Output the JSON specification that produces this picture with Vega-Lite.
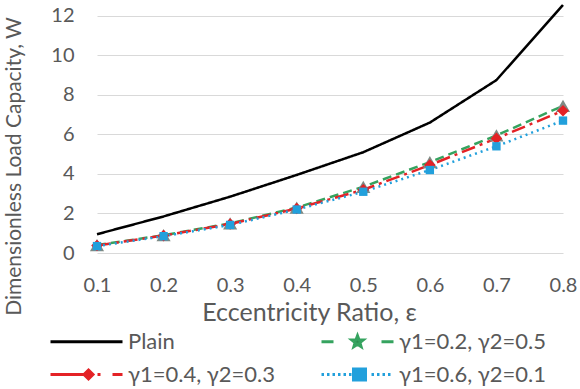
{
  "$schema": "https://vega.github.io/schema/vega-lite/v6.json",
  "width": 466,
  "height": 248,
  "autosize": {"type": "none"},
  "padding": {"left": 97, "top": 5, "right": 17, "bottom": 136},
  "background": "white",
  "config": {
    "font": "Lato",
    "view": {"stroke": null},
    "axis": {"labelColor": "#595959", "titleColor": "#595959", "labelFont": "Lato", "titleFont": "Lato", "titleFontWeight": "normal"}
  },
  "data": {
    "values": [
      {"eps": 0.1, "series": "Plain", "W": 0.95},
      {"eps": 0.2, "series": "Plain", "W": 1.85},
      {"eps": 0.3, "series": "Plain", "W": 2.85},
      {"eps": 0.4, "series": "Plain", "W": 3.95},
      {"eps": 0.5, "series": "Plain", "W": 5.1},
      {"eps": 0.6, "series": "Plain", "W": 6.6},
      {"eps": 0.7, "series": "Plain", "W": 8.75},
      {"eps": 0.8, "series": "Plain", "W": 12.55},
      {"eps": 0.1, "series": "γ1=0.2, γ2=0.5", "W": 0.4},
      {"eps": 0.2, "series": "γ1=0.2, γ2=0.5", "W": 0.9},
      {"eps": 0.3, "series": "γ1=0.2, γ2=0.5", "W": 1.5},
      {"eps": 0.4, "series": "γ1=0.2, γ2=0.5", "W": 2.3},
      {"eps": 0.5, "series": "γ1=0.2, γ2=0.5", "W": 3.35},
      {"eps": 0.6, "series": "γ1=0.2, γ2=0.5", "W": 4.6},
      {"eps": 0.7, "series": "γ1=0.2, γ2=0.5", "W": 5.95},
      {"eps": 0.8, "series": "γ1=0.2, γ2=0.5", "W": 7.45},
      {"eps": 0.1, "series": "γ1=0.4, γ2=0.3", "W": 0.38},
      {"eps": 0.2, "series": "γ1=0.4, γ2=0.3", "W": 0.88},
      {"eps": 0.3, "series": "γ1=0.4, γ2=0.3", "W": 1.47},
      {"eps": 0.4, "series": "γ1=0.4, γ2=0.3", "W": 2.25},
      {"eps": 0.5, "series": "γ1=0.4, γ2=0.3", "W": 3.2},
      {"eps": 0.6, "series": "γ1=0.4, γ2=0.3", "W": 4.45},
      {"eps": 0.7, "series": "γ1=0.4, γ2=0.3", "W": 5.8},
      {"eps": 0.8, "series": "γ1=0.4, γ2=0.3", "W": 7.2},
      {"eps": 0.1, "series": "γ1=0.6, γ2=0.1", "W": 0.35},
      {"eps": 0.2, "series": "γ1=0.6, γ2=0.1", "W": 0.85},
      {"eps": 0.3, "series": "γ1=0.6, γ2=0.1", "W": 1.42},
      {"eps": 0.4, "series": "γ1=0.6, γ2=0.1", "W": 2.2},
      {"eps": 0.5, "series": "γ1=0.6, γ2=0.1", "W": 3.1},
      {"eps": 0.6, "series": "γ1=0.6, γ2=0.1", "W": 4.2},
      {"eps": 0.7, "series": "γ1=0.6, γ2=0.1", "W": 5.4},
      {"eps": 0.8, "series": "γ1=0.6, γ2=0.1", "W": 6.7}
    ]
  },
  "encoding": {
    "x": {
      "field": "eps", "type": "quantitative",
      "scale": {"domain": [0.1, 0.8], "nice": false, "zero": false},
      "axis": {
        "title": "Eccentricity Ratio, ε",
        "values": [0.1, 0.2, 0.3, 0.4, 0.5, 0.6, 0.7, 0.8],
        "format": ".1f", "grid": false, "domain": false, "ticks": false,
        "labelFontSize": 20, "labelPadding": 22, "labelFlush": false,
        "titleFontSize": 25, "titleX": 212, "titleY": 59, "titleBaseline": "middle", "titleAlign": "center"
      }
    },
    "y": {
      "field": "W", "type": "quantitative",
      "scale": {"domain": [0, 12.55], "nice": false},
      "axis": {
        "title": "Dimensionless Load Capacity, W",
        "values": [0, 2, 4, 6, 8, 10, 12],
        "grid": true, "gridColor": "#d9d9d9", "gridWidth": 1,
        "domain": false, "ticks": false,
        "labelFontSize": 20, "labelPadding": 23,
        "titleFontSize": 21, "titleX": -83, "titleY": 161, "titleBaseline": "middle", "titleAngle": -90
      }
    }
  },
  "layer": [
    {
      "mark": {"type": "line", "strokeWidth": 2.5},
      "encoding": {
        "color": {
          "field": "series", "type": "nominal",
          "scale": {
            "domain": ["Plain", "γ1=0.4, γ2=0.3", "γ1=0.2, γ2=0.5", "γ1=0.6, γ2=0.1"],
            "range": ["#000000", "#e42226", "#35a35f", "#22a0dc"]
          },
          "legend": {
            "title": null,
            "orient": "none",
            "legendX": -47,
            "legendY": 325,
            "columns": 2,
            "columnPadding": 39,
            "rowPadding": 10,
            "symbolSize": 400,
            "symbolStrokeWidth": 3,
            "labelFontSize": 22,
            "labelColor": "#595959",
            "labelFont": "Lato",
            "labelOffset": 55,
            "labelLimit": 300,
            "encode": {
              "symbols": {
                "update": {
                  "shape": {"signal": "datum.value == 'Plain' ? 'M-1.1,0H6.1' : datum.value == 'γ1=0.2, γ2=0.5' ? 'M-1.1,0H0.1M4.9,0H6.1M2.5,-0.6L2.647,-0.202L3.071,-0.185L2.738,0.077L2.853,0.485L2.5,0.25L2.147,0.485L2.262,0.077L1.929,-0.185L2.353,-0.202Z' : datum.value == 'γ1=0.4, γ2=0.3' ? 'M-1.1,0H2.5M2.7,-0.45L3.15,0L2.7,0.45L2.25,0ZM3.6,0H3.9M5.1,0H6.1' : 'M-1.1,0H-0.85M-0.55,0H-0.3M0,0H0.25M0.55,0H0.8M1.1,0H1.35M1.65,0H1.9M2.1,-0.55H3.3V0.55H2.1ZM3.9,0H4.15M4.45,0H4.7M5,0H5.25M5.55,0H5.8'"},
                  "fill": {"signal": "datum.value == 'Plain' ? 'transparent' : datum.value == 'γ1=0.2, γ2=0.5' ? '#2e8b4f' : datum.value == 'γ1=0.4, γ2=0.3' ? '#e42226' : '#22a0dc'"},
                  "stroke": {"signal": "datum.value == 'Plain' ? '#000000' : datum.value == 'γ1=0.2, γ2=0.5' ? '#35a35f' : datum.value == 'γ1=0.4, γ2=0.3' ? '#e42226' : '#22a0dc'"},
                  "strokeWidth": {"value": 3},
                  "size": {"value": 400},
                  "opacity": {"value": 1}
                }
              }
            }
          }
        },
        "strokeDash": {
          "field": "series", "type": "nominal",
          "scale": {
            "domain": ["Plain", "γ1=0.2, γ2=0.5", "γ1=0.4, γ2=0.3", "γ1=0.6, γ2=0.1"],
            "range": [[1, 0], [9, 5], [14, 5, 3, 5], [2, 4]]
          },
          "legend": null
        }
      }
    },
    {
      "transform": [{"filter": "datum.series != 'Plain'"}],
      "mark": {"type": "point", "filled": true, "opacity": 1},
      "encoding": {
        "fill": {
          "field": "series", "type": "nominal",
          "scale": {
            "domain": ["γ1=0.2, γ2=0.5", "γ1=0.4, γ2=0.3", "γ1=0.6, γ2=0.1"],
            "range": ["#7f8a84", "#e42226", "#22a0dc"]
          },
          "legend": null
        },
        "shape": {
          "field": "series", "type": "nominal",
          "scale": {
            "domain": ["γ1=0.2, γ2=0.5", "γ1=0.4, γ2=0.3", "γ1=0.6, γ2=0.1"],
            "range": ["triangle-up", "diamond", "square"]
          },
          "legend": null
        },
        "size": {
          "field": "series", "type": "nominal",
          "scale": {
            "domain": ["γ1=0.2, γ2=0.5", "γ1=0.4, γ2=0.3", "γ1=0.6, γ2=0.1"],
            "range": [200, 70, 150]
          },
          "legend": null
        }
      }
    }
  ]
}
